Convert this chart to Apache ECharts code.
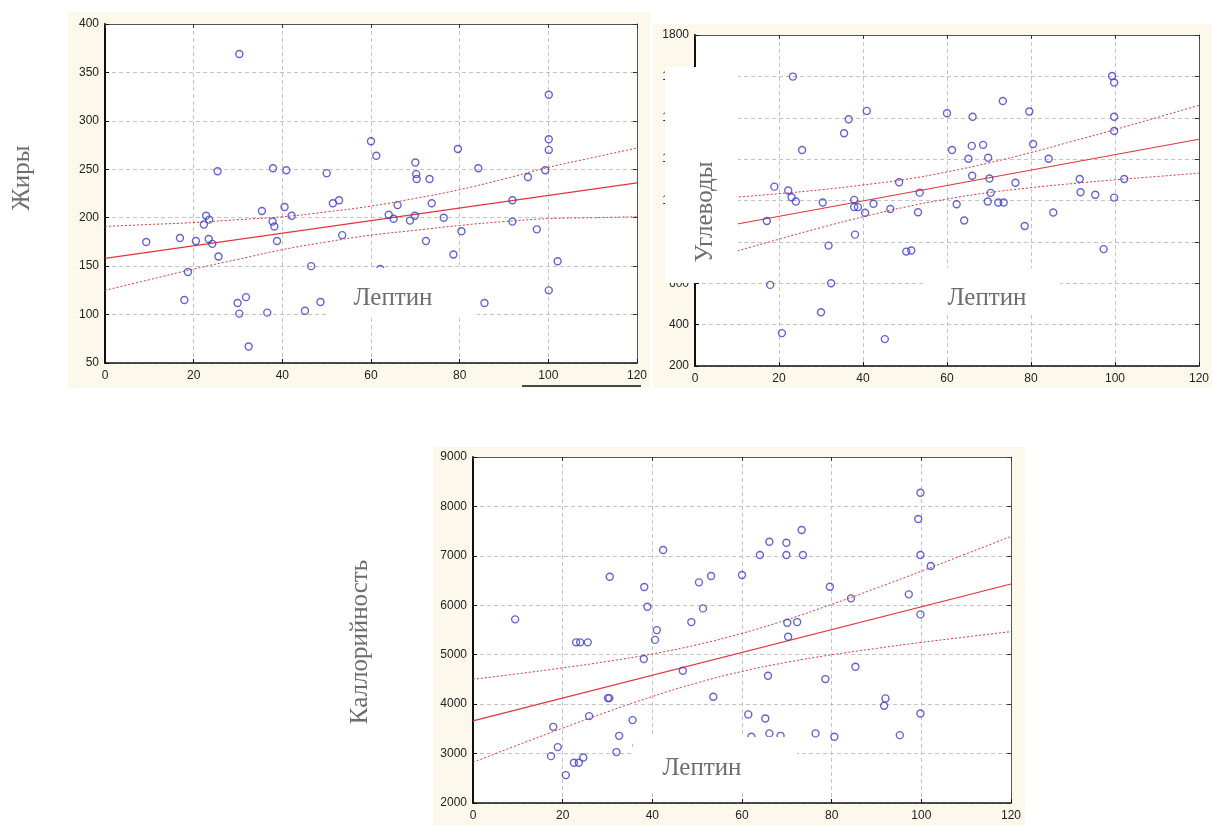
<!DOCTYPE html>
<html><head><meta charset="utf-8">
<script src="https://cdn.jsdelivr.net/npm/echarts@6/dist/echarts.min.js"></script>
<style>html,body{margin:0;padding:0;background:#fff}#c{width:1212px;height:825px}</style>
</head><body><div id="c"></div>
<script>
// ---- data ----
const xTicks = [0, 20, 40, 60, 80, 100, 120];
const bandX = [0, 10, 20, 30, 40, 50, 60, 70, 80, 90, 100, 110, 120];
const fitX = [0, 120];

// Жиры vs Лептин
const fatPoints = [[9.3,175],[16.9,179],[17.9,115],[18.7,144],[20.5,176],[22.3,193],[22.8,202],[23.5,198],[23.4,178],[24.2,173],[25.6,160],[25.4,248],[29.9,112],[30.3,101],[31.8,118],[32.4,67],[30.3,369],[35.4,207],[36.6,102],[37.8,196],[38.2,191],[38.8,176],[37.9,251],[40.5,211],[40.9,249],[42.1,202],[45.1,104],[46.5,150],[48.6,113],[50.0,246],[51.4,215],[52.8,218],[53.5,182],[60.0,279],[61.2,264],[62.1,147],[64.0,203],[65.1,199],[66.0,213],[68.8,197],[69.9,202],[70.0,257],[70.2,245],[70.3,240],[72.4,176],[73.2,240],[73.7,215],[76.4,200],[78.6,162],[79.6,271],[80.4,186],[84.2,251],[85.6,112],[91.9,218],[91.9,196],[95.4,242],[97.4,188],[99.3,249],[100.1,327],[100.1,281],[100.1,270],[100.1,125],[102.1,155]];
const fatFit = [158, 236];
const fatUpper = [191,193,195,198,201,206,212,220,229,240,252,262,272];
const fatLower = [125,136,147,157,167,175,182,187,192,196,199,200,201];

// Углеводы vs Лептин
const carbPoints = [[17.1,901],[17.9,592],[18.9,1067],[20.7,359],[22.2,1048],[23.0,1016],[23.3,1599],[24.0,995],[25.5,1244],[30.0,460],[30.4,990],[31.8,782],[32.4,600],[35.5,1325],[36.6,1393],[37.9,1003],[37.9,968],[38.8,968],[38.1,835],[40.5,941],[40.9,1433],[42.5,984],[45.2,330],[46.5,959],[48.6,1088],[50.3,753],[51.5,758],[53.1,943],[53.5,1038],[60.0,1422],[61.2,1244],[62.3,982],[64.1,903],[65.1,1202],[65.9,1264],[66.0,1120],[66.1,1405],[68.6,1269],[69.7,995],[69.8,1207],[70.1,1106],[70.4,1037],[72.2,990],[73.3,1481],[73.5,990],[76.3,1086],[78.5,877],[79.6,1430],[80.5,1273],[84.2,1202],[85.3,942],[91.6,1104],[91.8,1040],[95.3,1028],[97.3,765],[99.3,1602],[99.8,1570],[99.8,1405],[99.8,1336],[99.8,1014],[102.2,1104]];
const carbFit = [849, 1296];
const carbUpper = [1000,1016,1033,1052,1075,1102,1138,1182,1232,1287,1343,1401,1460];
const carbLower = [698,756,813,869,921,968,1007,1038,1062,1082,1100,1116,1132];

// Каллорийность vs Лептин
const calPoints = [[9.4,5715],[17.4,2948],[17.9,3541],[18.9,3131],[20.7,2564],[22.5,2813],[23.6,2813],[23.0,5250],[23.9,5250],[24.6,2922],[25.6,5250],[25.9,3758],[30.1,4122],[30.4,4122],[30.5,6577],[32.0,3030],[32.6,3359],[35.6,3677],[36.5,3165],[38.1,4912],[38.2,6369],[38.9,5970],[40.6,5300],[41.0,5498],[42.4,7118],[46.8,4675],[48.7,5660],[50.4,6464],[51.3,5937],[53.1,6591],[53.6,4149],[60.0,6612],[61.4,3792],[62.1,3339],[64.0,7016],[65.2,3711],[65.8,4574],[66.1,7286],[66.1,3408],[68.6,3359],[69.9,7266],[69.9,7016],[70.1,5646],[70.3,5363],[72.3,5660],[73.3,7522],[73.6,7016],[76.4,3408],[78.6,4507],[79.6,6375],[80.6,3339],[84.3,6140],[85.3,4756],[91.7,3967],[92.0,4116],[95.2,3373],[97.2,6221],[99.3,7745],[99.8,8278],[99.8,7016],[99.8,5816],[99.8,3812],[102.1,6794]];
const calFit = [3663, 6430];
const calUpper = [4503,4615,4734,4865,5016,5202,5433,5708,6018,6348,6690,7040,7393];
const calLower = [2823,3173,3514,3845,4154,4430,4661,4846,4998,5128,5248,5360,5467];

const yLabels = ['Жиры', 'Углеводы', 'Каллорийность'];
const xLabel = 'Лептин';

// ---- chart building ----
const RED = '#e0353c', BLUE = '#3c3cc8', BEIGE = '#fcf8eb', GRIDC = '#c4c4c4', TXT = '#6d6d6d';
const grids = [], xAxes = [], yAxes = [], series = [];
const plots = [
  {g:{left:105, top:24, width:532, height:339}, ymin:50, ymax:400, yint:50, pts:fatPoints, fit:fatFit, up:fatUpper, lo:fatLower},
  {g:{left:695, top:35, width:509, height:331}, ymin:200, ymax:1800, yint:200, pts:carbPoints, fit:carbFit, up:carbUpper, lo:carbLower},
  {g:{left:473, top:457, width:538, height:346}, ymin:2000, ymax:9000, yint:1000, pts:calPoints, fit:calFit, up:calUpper, lo:calLower}
];
const lbl = {fontFamily:'Liberation Sans, Arial, sans-serif', fontSize:12, color:'#222', formatter: v => String(v)};
plots.forEach((p, i) => {
  grids.push(Object.assign({show:true, backgroundColor:'#fff', borderWidth:0, containLabel:false}, p.g));
  const xi = xAxes.length, yi = yAxes.length;
  xAxes.push({type:'value', gridIndex:i, min:0, max:120, interval:20, position:'bottom',
    axisLine:{show:true, onZero:false, lineStyle:{color:'#111', width:1.5}},
    axisTick:{show:true, inside:true, length:4, lineStyle:{color:'#111'}},
    axisLabel:Object.assign({margin:7}, lbl),
    splitLine:{show:true, lineStyle:{color:GRIDC, type:[4,3], width:1}}});
  xAxes.push({type:'value', gridIndex:i, min:0, max:120, interval:20, position:'top',
    axisLine:{show:true, onZero:false, lineStyle:{color:'#555', width:1}},
    axisTick:{show:true, inside:true, length:4, lineStyle:{color:'#333'}},
    axisLabel:{show:false}, splitLine:{show:false}});
  yAxes.push({type:'value', gridIndex:i, min:p.ymin, max:p.ymax, interval:p.yint, position:'left',
    axisLine:{show:true, onZero:false, lineStyle:{color:'#111', width:2}},
    axisTick:{show:true, inside:true, length:4, lineStyle:{color:'#111'}},
    axisLabel:Object.assign({margin:6}, lbl),
    splitLine:{show:true, lineStyle:{color:GRIDC, type:[4,3], width:1}}});
  yAxes.push({type:'value', gridIndex:i, min:p.ymin, max:p.ymax, interval:p.yint, position:'right',
    axisLine:{show:true, onZero:false, lineStyle:{color:'#555', width:1}},
    axisTick:{show:true, inside:true, length:4, lineStyle:{color:'#333'}},
    axisLabel:{show:false}, splitLine:{show:false}});
  series.push({type:'scatter', xAxisIndex:xi, yAxisIndex:yi, data:p.pts, symbol:'circle', symbolSize:7,
    itemStyle:{color:'rgba(255,255,255,0)', borderColor:BLUE, borderWidth:1.4}, z:5, silent:true});
  series.push({type:'line', xAxisIndex:xi, yAxisIndex:yi, data:fitX.map((x,k)=>[x,p.fit[k]]), showSymbol:false,
    lineStyle:{color:RED, width:1.2}, z:4, silent:true});
  series.push({type:'line', xAxisIndex:xi, yAxisIndex:yi, data:bandX.map((x,k)=>[x,p.up[k]]), showSymbol:false, smooth:true,
    lineStyle:{color:RED, width:1, type:[2,2]}, z:4, silent:true});
  series.push({type:'line', xAxisIndex:xi, yAxisIndex:yi, data:bandX.map((x,k)=>[x,p.lo[k]]), showSymbol:false, smooth:true,
    lineStyle:{color:RED, width:1, type:[2,2]}, z:4, silent:true});
});

const serif = {fontFamily:'Liberation Serif, Times New Roman, serif', fontSize:25, fill:TXT};
const graphic = [
  {type:'rect', shape:{x:68, y:12, width:582, height:376}, style:{fill:BEIGE}, z:-100},
  {type:'rect', shape:{x:653, y:24, width:559, height:364}, style:{fill:BEIGE}, z:-100},
  {type:'rect', shape:{x:433, y:447, width:592, height:378}, style:{fill:BEIGE}, z:-100},
  {type:'line', shape:{x1:522, y1:386, x2:641, y2:386}, style:{stroke:'#111', lineWidth:1.5}, z:50},
  {type:'rect', shape:{x:327, y:268, width:150, height:50}, style:{fill:'#fff'}, z:100},
  {type:'rect', shape:{x:665, y:67, width:73, height:216}, style:{fill:'#fff'}, z:100},
  {type:'rect', shape:{x:923, y:268, width:137, height:45}, style:{fill:'#fff'}, z:100},
  {type:'rect', shape:{x:633, y:737, width:164, height:56}, style:{fill:'#fff'}, z:100},
  {type:'text', x:22, y:178, rotation:Math.PI/2, style:Object.assign({text:yLabels[0], textAlign:'center', textVerticalAlign:'middle'}, serif), z:101},
  {type:'text', x:705, y:212, rotation:Math.PI/2, style:Object.assign({text:yLabels[1], textAlign:'center', textVerticalAlign:'middle'}, serif), z:101},
  {type:'text', x:360, y:642, rotation:Math.PI/2, style:Object.assign({text:yLabels[2], textAlign:'center', textVerticalAlign:'middle'}, serif), z:101},
  {type:'text', x:393, y:298, style:Object.assign({text:xLabel, textAlign:'center', textVerticalAlign:'middle'}, serif), z:101},
  {type:'text', x:987, y:298, style:Object.assign({text:xLabel, textAlign:'center', textVerticalAlign:'middle'}, serif), z:101},
  {type:'text', x:702, y:768, style:Object.assign({text:xLabel, textAlign:'center', textVerticalAlign:'middle'}, serif), z:101}
];

const chart = echarts.init(document.getElementById('c'), null, {renderer:'canvas'});
chart.setOption({animation:false, backgroundColor:'#fff', grid:grids, xAxis:xAxes, yAxis:yAxes, series:series, graphic:graphic});
</script></body></html>
